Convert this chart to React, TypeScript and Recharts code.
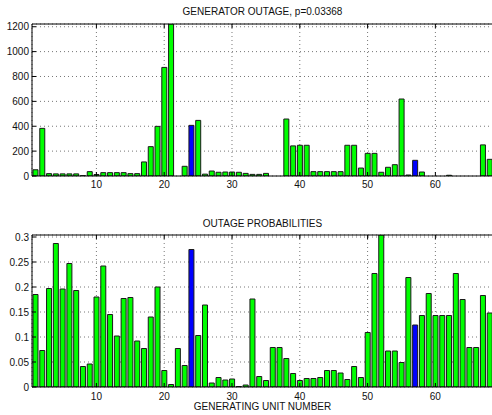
import { BarChart, Bar, XAxis, YAxis, CartesianGrid, Cell, ReferenceLine } from 'recharts'

// outage (MW) per generating unit
const outage = [
  50, 383, 19, 17, 17, 17, 17, 3, 35, 12,
  27, 27, 27, 27, 19, 19, 113, 236, 399, 873,
  1222, 0, 78, 407, 447, 15, 40, 30, 32, 32,
  30, 21, 13, 13, 21, 0, 0, 458, 242, 247,
  247, 35, 35, 35, 35, 35, 247, 247, 64, 182,
  182, 30, 70, 91, 619, 8, 126, 32, 0, 0,
  0, 6, 0, 0, 0, 0, 250, 134,
]

// outage probability per unit, lower panel
const probability = [
  0.185, 0.073, 0.197, 0.287, 0.196, 0.247, 0.193, 0.041, 0.046, 0.18,
  0.242, 0.145, 0.102, 0.177, 0.179, 0.092, 0.077, 0.14, 0.2, 0.033,
  0.005, 0.077, 0.043, 0.275, 0.103, 0.164, 0.008, 0.019, 0.014, 0.016,
  0.001, 0.004, 0.176, 0.021, 0.013, 0.079, 0.079, 0.057, 0.027, 0.013,
  0.017, 0.017, 0.019, 0.033, 0.033, 0.028, 0.015, 0.041, 0.019, 0.109,
  0.227, 0.304, 0.072, 0.072, 0.049, 0.219, 0.124, 0.143, 0.187, 0.143,
  0.143, 0.143, 0.227, 0.175, 0.079, 0.079, 0.183, 0.148,
]

const highlighted = [24, 57]
const xTicks = [10, 20, 30, 40, 50, 60]
const outageTicks = [0, 200, 400, 600, 800, 1000, 1200]
const probTicks = [0, 0.05, 0.1, 0.15, 0.2, 0.25, 0.3]
const outageMax = 1222
const probMax = 0.304

const data = outage.map((mw, i) => ({ unit: i + 1, mw, p: probability[i] }))

const font = '"Liberation Sans", Arial, Helvetica, sans-serif'
const GREEN = '#00ff00'
const BLUE = '#0000ff'
const PLOT_H = 152

const makeXTick = (margin: number) => (props: any) => {
  const { x, y, payload } = props
  const axisY = y - margin
  return (
    <g>
      <line x1={x} x2={x} y1={axisY} y2={axisY - 4} stroke="#000" />
      <line x1={x} x2={x} y1={axisY - PLOT_H} y2={axisY - PLOT_H + 4} stroke="#000" />
      <text x={x} y={y} dy="0.71em" textAnchor="middle" fontSize={10} fill="#111" fontFamily={font}>
        {payload.value}
      </text>
    </g>
  )
}

const YTick = (props: any) => {
  const { x, y, payload } = props
  const axisX = x + 3
  return (
    <g>
      <line x1={axisX} x2={axisX + 4} y1={y} y2={y} stroke="#000" />
      <text x={x} y={y} dy="0.355em" textAnchor="end" fontSize={10} fill="#111" fontFamily={font}>
        {payload.value}
      </text>
    </g>
  )
}

const titleStyle = {
  position: 'absolute' as const,
  left: 32,
  width: 461,
  textAlign: 'center' as const,
  fontSize: 10,
  fontFamily: font,
  color: '#111',
  lineHeight: '12px',
}

export default function App() {
  return (
    <div style={{ position: 'absolute', left: 0, top: 0, width: 492, height: 415, overflow: 'hidden', background: '#fff' }}>
      <div style={{ ...titleStyle, top: 6 }}>GENERATOR OUTAGE, p=0.03368</div>
      <div style={{ position: 'absolute', left: 0, top: 0 }}>
        <BarChart width={494} height={196} data={data} margin={{ top: 24, right: 1, bottom: 0, left: 0 }} barSize={5}>
          <CartesianGrid stroke="#777" strokeDasharray="1 3" />
          <XAxis
            dataKey="unit"
            type="number"
            domain={[0.5, 68.5]}
            ticks={xTicks}
            allowDataOverflow
            height={20}
            tickLine={false}
            tickSize={0}
            tickMargin={5}
            tick={makeXTick(5)}
            axisLine={{ stroke: '#000' }}
          />
          <YAxis
            type="number"
            domain={[0, outageMax]}
            ticks={outageTicks}
            allowDataOverflow
            width={32}
            tickLine={false}
            tickSize={0}
            tickMargin={3}
            tick={YTick}
            axisLine={{ stroke: '#000' }}
          />
          <ReferenceLine y={outageMax} stroke="#000" />
          <Bar dataKey="mw" stroke="#1a1a1a" strokeWidth={1} isAnimationActive={false}>
            {data.map((d) => (
              <Cell key={d.unit} fill={highlighted.includes(d.unit) ? BLUE : GREEN} />
            ))}
          </Bar>
        </BarChart>
      </div>
      <div style={{ ...titleStyle, top: 218 }}>OUTAGE PROBABILITIES</div>
      <div style={{ position: 'absolute', left: 0, top: 211 }}>
        <BarChart width={494} height={204} data={data} margin={{ top: 24, right: 1, bottom: 0, left: 0 }} barSize={5}>
          <CartesianGrid stroke="#777" strokeDasharray="1 3" />
          <XAxis
            dataKey="unit"
            type="number"
            domain={[0.5, 68.5]}
            ticks={xTicks}
            allowDataOverflow
            height={28}
            tickLine={false}
            tickSize={0}
            tickMargin={6}
            tick={makeXTick(6)}
            axisLine={{ stroke: '#000' }}
          />
          <YAxis
            type="number"
            domain={[0, probMax]}
            ticks={probTicks}
            allowDataOverflow
            width={32}
            tickLine={false}
            tickSize={0}
            tickMargin={3}
            tick={YTick}
            axisLine={{ stroke: '#000' }}
          />
          <ReferenceLine y={probMax} stroke="#000" />
          <Bar dataKey="p" stroke="#1a1a1a" strokeWidth={1} isAnimationActive={false}>
            {data.map((d) => (
              <Cell key={d.unit} fill={highlighted.includes(d.unit) ? BLUE : GREEN} />
            ))}
          </Bar>
        </BarChart>
      </div>
      <div style={{ ...titleStyle, top: 401 }}>GENERATING UNIT NUMBER</div>
    </div>
  )
}
